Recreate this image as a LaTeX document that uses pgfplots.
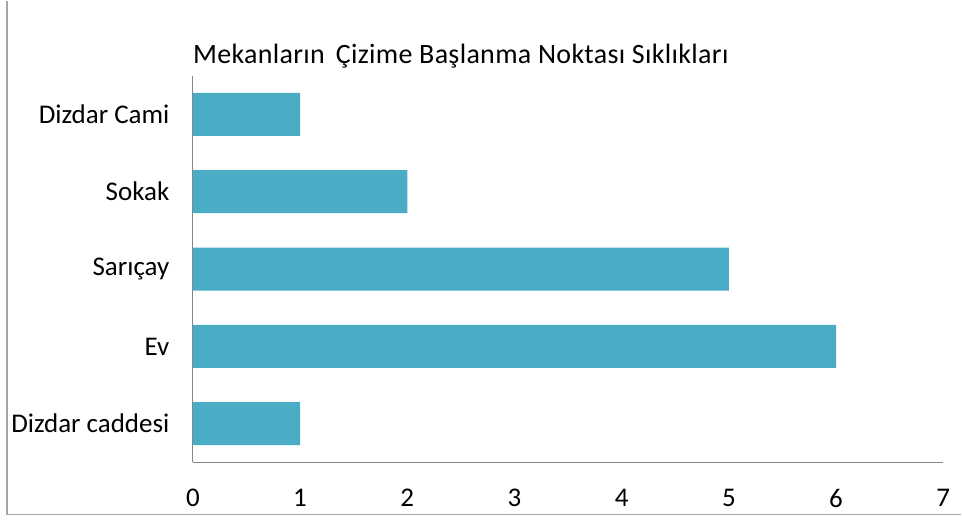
\documentclass[border=0pt]{standalone}
\usepackage{pgfplots}
\pgfplotsset{compat=1.18}
\usepackage{fontspec}
\setmainfont{Carlito}
\definecolor{barc}{RGB}{75,172,198}
\definecolor{axc}{RGB}{134,134,134}
\definecolor{frc}{RGB}{165,165,165}
\begin{document}
\begin{tikzpicture}[x=1bp,y=1bp]
\path (0,0) rectangle (962,521);
\draw[frc, line width=1.5bp] (7,521) -- (7,7) -- (962,7);
\begin{axis}[
  at={(193bp,59bp)}, anchor=south west,
  scale only axis, width=751bp, height=387bp,
  xbar, bar width=43bp,
  xmin=0, xmax=7, ymin=-0.5, ymax=4.5,
  xtick={0,1,2,3,4,5,6,7},
  ytick={0,1,2,3,4},
  yticklabels={Dizdar caddesi, Ev, Sarıçay, Sokak, Dizdar Cami},
  axis x line*=bottom, axis y line*=left,
  axis line style={axc, line width=1.2bp, -},
  major tick length=0pt,
  /pgf/number format/assume math mode=true,
  tick label style={font=\fontsize{27bp}{32bp}\selectfont, black},
  xticklabel style={yshift=-23bp},
  yticklabel style={xshift=-20bp},
  title={Mekanların\hspace{0.15em} Çizime Başlanma Noktası Sıklıkları},
  title style={font=\fontsize{28bp}{33bp}\selectfont\addfontfeature{LetterSpace=1.2}, at={(0,1)}, anchor=base west, yshift=6bp, inner sep=0pt},
]
\addplot[fill=barc, draw=none] coordinates {(1,0) (6,1) (5,2) (2,3) (1,4)};
\end{axis}
\end{tikzpicture}
\end{document}
